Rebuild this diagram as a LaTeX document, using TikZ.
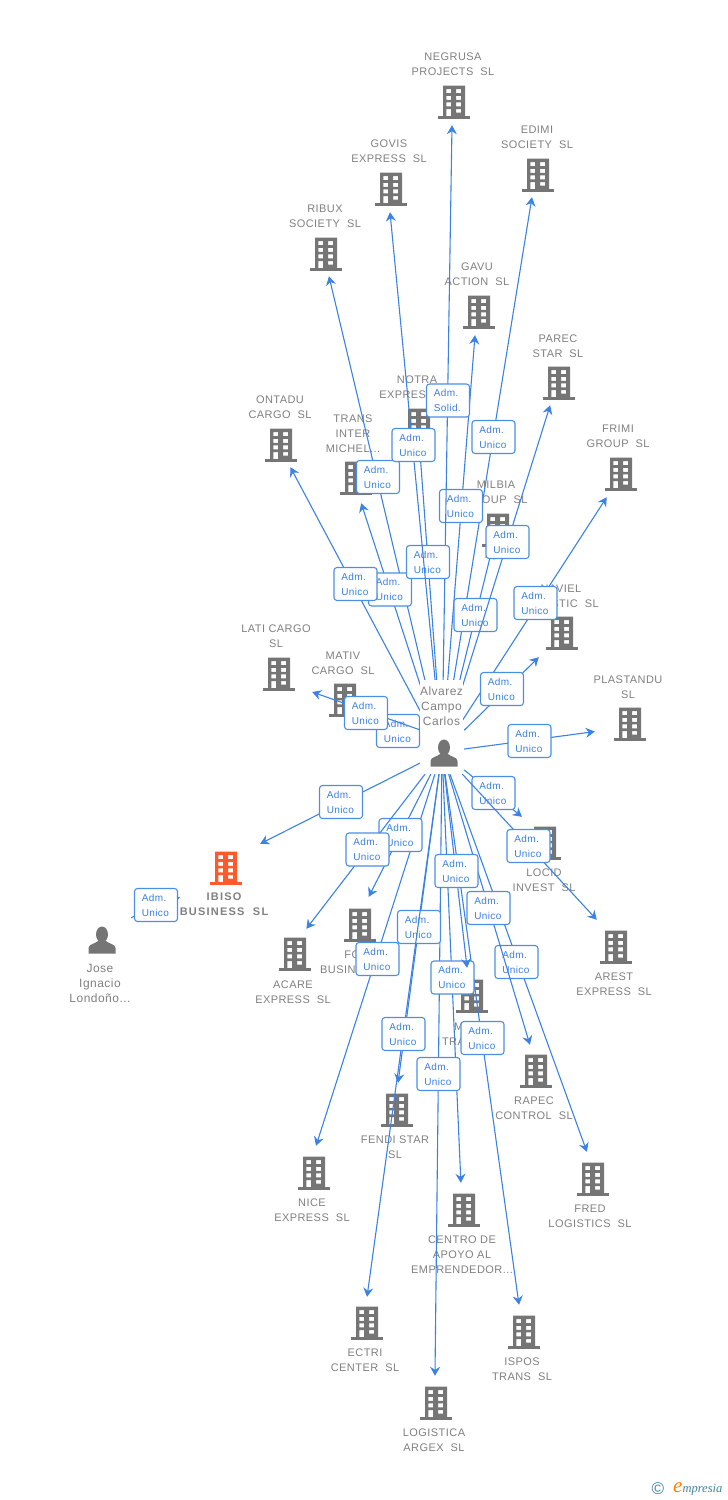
\documentclass[tikz,border=0pt]{standalone}
\usepackage{fontspec}
\usepackage{xcolor}
\setmainfont{Liberation Sans}[LetterSpace=4]
\newfontfamily\ibisofont{Liberation Sans}[LetterSpace=11]
\newfontfamily\logofont{Liberation Serif}
\usetikzlibrary{arrows.meta}
\definecolor{linkblue}{HTML}{3B82E4}
\definecolor{boxblue}{HTML}{4A8FE4}
\definecolor{admblue}{HTML}{3A80E0}
\definecolor{iconhue}{HTML}{757575}
\definecolor{txthue}{HTML}{808080}
\definecolor{ibisohue}{HTML}{FF5A2B}
\definecolor{logohue}{HTML}{3F82A3}
\tikzset{
  firm/.style={rectangle, minimum width=68pt, minimum height=50pt, inner sep=0pt},
  txt/.style={align=center, inner sep=0pt, yshift=-0.7pt, text=txthue, font=\fontsize{11}{15}\selectfont},
  persontxt/.style={txt, font=\fontsize{12}{15}\selectfont},
  link/.style={linkblue, line width=1.1pt, -{Stealth[length=9pt, width=10pt, inset=3pt]}},
  adm/.style={draw=boxblue, line width=1.1pt, fill=white, rounded corners=3pt, minimum width=43pt, minimum height=33pt,
    inner sep=0pt, text width=28.5pt, align=left, text=admblue, font=\fontsize{10}{15}\selectfont},
  building/.pic={
    \fill[even odd rule] (-11,-16.5) rectangle (11,14)
      (-7.7,-12.8) rectangle (-3,-8.8) (2,-12.8) rectangle (7,-8.8)
      (-7.7,-6.2) rectangle (-3,-2.2) (2,-6.2) rectangle (7,-2.2)
      (-7.7,0.3) rectangle (-3,4.3) (2,0.3) rectangle (7,4.3)
      (-7.7,7) rectangle (-3,14) (2,7) rectangle (7,10.6);
    \fill (-16,14) rectangle (16,16.5);
  },
  person/.pic={
    \fill (0,-5.5) ellipse (6 and 8);
    \fill (-13.5,13.5) -- (-13.5,8) .. controls (-13.5,4) and (-7,4) .. (-4,1) -- (4,1) .. controls (7,4) and (13.5,4) .. (13.5,8) -- (13.5,13.5) -- cycle;
  }
}
\begin{document}
\begin{tikzpicture}[x=1pt, y=-1pt]
  \useasboundingbox (0,0) rectangle (728,1500);
  % firms
  \node[firm] (negrusa) at (452.4,100) {};
  \node[firm] (govis) at (387.6,187) {};
  \node[firm] (edimi) at (536,172) {};
  \node[firm] (ribux) at (323,251) {};
  \node[firm] (gavu) at (477,310) {};
  \node[firm] (parec) at (558,380) {};
  \node[firm] (notra) at (418,425) {};
  \node[firm] (ontadu) at (277,442) {};
  \node[firm] (trans) at (353,478) {};
  \node[firm] (frimi) at (623,472) {};
  \node[firm] (milbia) at (498,525) {};
  \node[firm] (naviel) at (564.5,632) {};
  \node[firm] (lati) at (278,680) {};
  \node[firm] (mativ) at (345,700) {};
  \node[firm] (plastandu) at (629,727) {};
  \node[firm] (ibiso) at (226,861) {};
  \node[firm] (locid) at (553,842) {};
  \node[firm] (forbus) at (356,922) {};
  \node[firm] (acare) at (287,954) {};
  \node[firm] (arest) at (620,945) {};
  \node[firm] (mitra) at (470,993) {};
  \node[firm] (rapec) at (537.5,1070) {};
  \node[firm] (fendi) at (394.7,1108) {};
  \node[firm] (nice) at (308,1171) {};
  \node[firm] (fred) at (596,1177) {};
  \node[firm] (centro) at (462,1208) {};
  \node[firm] (ectri) at (363.6,1322) {};
  \node[firm] (ispos) at (522.5,1330) {};
  \node[firm] (logistica) at (434.7,1401) {};
  \node[rectangle, minimum size=44pt, inner sep=0pt] (alvarez) at (442,752) {};
  \node[rectangle, minimum width=58pt, minimum height=48pt, inner sep=0pt] (jose) at (102,930) {};
  \coordinate (ibisoin) at (180,897);
  % icons
  \pic[iconhue] at (454,102) {building};
  \pic[iconhue] at (391,189) {building};
  \pic[iconhue] at (538,175) {building};
  \pic[iconhue] at (326,254) {building};
  \pic[iconhue] at (479,312) {building};
  \pic[iconhue] at (559,383) {building};
  \pic[iconhue] at (419,425) {building};
  \pic[iconhue] at (281,445) {building};
  \pic[iconhue] at (356,478) {building};
  \pic[iconhue] at (621,474) {building};
  \pic[iconhue] at (498,530) {building};
  \pic[iconhue] at (562,633) {building};
  \pic[iconhue] at (279,674) {building};
  \pic[iconhue] at (345,700) {building};
  \pic[iconhue] at (630,724) {building};
  \pic[ibisohue] at (226,868) {building};
  \pic[iconhue] at (545,843) {building};
  \pic[iconhue] at (360,925) {building};
  \pic[iconhue] at (295,954) {building};
  \pic[iconhue] at (616,947) {building};
  \pic[iconhue] at (472,996) {building};
  \pic[iconhue] at (536,1071) {building};
  \pic[iconhue] at (397,1110) {building};
  \pic[iconhue] at (314,1173) {building};
  \pic[iconhue] at (593,1179) {building};
  \pic[iconhue] at (464,1210) {building};
  \pic[iconhue] at (367,1323) {building};
  \pic[iconhue] at (524,1332) {building};
  \pic[iconhue] at (436,1403) {building};
  \pic[iconhue] at (444,753) {person};
  \pic[iconhue] at (102,940) {person};
  % links under the boxes
  \draw[link] (alvarez) -- (edimi);
  \draw[link] (alvarez) -- (ribux);
  \draw[link] (alvarez) -- (gavu);
  \draw[link] (alvarez) -- (notra);
  \draw[link] (alvarez) -- (ontadu);
  \draw[link] (alvarez) -- (trans);
  \draw[link] (alvarez) -- (frimi);
  \draw[link] (alvarez) -- (milbia);
  \draw[link] (alvarez) -- (naviel);
  \draw[link] (alvarez) -- (mativ);
  \draw[link] (alvarez) -- (plastandu);
  \draw[link] (alvarez) -- (ibiso);
  \draw[link] (alvarez) -- (locid);
  \draw[link] (alvarez) -- (forbus);
  \draw[link] (alvarez) -- (fendi);
  \draw[link] (alvarez) -- (nice);
  \draw[link] (alvarez) -- (fred);
  \draw[link] (alvarez) -- (centro);
  \draw[link] (alvarez) -- (ispos);
  \draw[link] (alvarez) -- (logistica);
  \draw[link] (jose) -- (ibisoin);
  % names
  \node[txt] (negrusatxt) at (453,63.5) {NEGRUSA\\PROJECTS\ \ SL};
  \node[txt] (govistxt) at (389,150.5) {GOVIS\\EXPRESS\ \ SL};
  \node[txt] (edimitxt) at (537,136.5) {EDIMI\\SOCIETY\ \ SL};
  \node[txt] (ribuxtxt) at (325,215.5) {RIBUX\\SOCIETY\ \ SL};
  \node[txt] (gavutxt) at (477,273.5) {GAVU\\ACTION\ \ SL};
  \node[txt] (parectxt) at (558,345.5) {PAREC\\STAR\ \ SL};
  \node[txt] (notratxt) at (417,386.5) {NOTRA\\EXPRESS\ \ SL};
  \node[txt] (ontadutxt) at (280,406.5) {ONTADU\\CARGO\ \ SL};
  \node[txt] (transtxt) at (353,433) {TRANS\\INTER\\MICHEL...};
  \node[txt] (frimitxt) at (618,435.5) {FRIMI\\GROUP\ \ SL};
  \node[txt] (milbiatxt) at (496,491.5) {MILBIA\\GROUP\ \ SL};
  \node[txt] (navieltxt) at (561,595.5) {NAVIEL\\LOGISTIC\ \ SL};
  \node[txt] (latitxt) at (276,635.5) {LATI CARGO\\SL};
  \node[txt] (mativtxt) at (343,662.5) {MATIV\\CARGO\ \ SL};
  \node[txt] (plastandutxt) at (628,686.5) {PLASTANDU\\SL};
  \node[txt, font=\fontsize{11}{15}\selectfont\ibisofont\bfseries] (ibisotxt) at (224,903.5) {IBISO\\BUSINESS\ \ SL};
  \node[txt] (locidtxt) at (544,879.5) {LOCID\\INVEST\ \ SL};
  \node[txt] (forbustxt) at (360,961.5) {FORT\\BUSINESS\ \ SL};
  \node[txt] (acaretxt) at (293,991.5) {ACARE\\EXPRESS\ \ SL};
  \node[txt] (aresttxt) at (614,983.5) {AREST\\EXPRESS\ \ SL};
  \node[txt] (mitratxt) at (472,1033.5) {MITRA\\TRANS\ \ SL};
  \node[txt] (rapectxt) at (534,1107.5) {RAPEC\\CONTROL\ \ SL};
  \node[txt] (fenditxt) at (395,1146.5) {FENDI STAR\\SL};
  \node[txt] (nicetxt) at (312,1209.5) {NICE\\EXPRESS\ \ SL};
  \node[txt] (fredtxt) at (590,1215.5) {FRED\\LOGISTICS\ \ SL};
  \node[txt] (centrotxt) at (462,1254) {CENTRO DE\\APOYO AL\\EMPRENDEDOR...};
  \node[txt] (ectritxt) at (365,1359.5) {ECTRI\\CENTER\ \ SL};
  \node[txt] (ispostxt) at (522,1368.5) {ISPOS\\TRANS\ \ SL};
  \node[txt] (logisticatxt) at (434,1439.5) {LOGISTICA\\ARGEX\ \ SL};
  \node[persontxt] (josetxt) at (100,983) {Jose\\Ignacio\\Londoño...};
  % role boxes
  \node[adm] (admedimi) at (493.5,437) {Adm.\\Unico};
  \node[adm] (admribux) at (378,477) {Adm.\\Unico};
  \node[adm] (admgavu) at (461,506) {Adm.\\Unico};
  \node[adm] (admtrans) at (390,589.5) {Adm.\\Unico};
  \node[adm] (admontadu) at (355.5,584) {Adm.\\Unico};
  \node[adm] (admmilbia) at (475.5,615) {Adm.\\Unico};
  \node[adm] (admfrimi) at (535.5,603) {Adm.\\Unico};
  \node[adm] (admnaviel) at (502,689) {Adm.\\Unico};
  \node[adm] (admplastandu) at (529.5,741) {Adm.\\Unico};
  \node[adm] (admmativ) at (398,731) {Adm.\\Unico};
  \node[adm] (admibiso) at (341,802) {Adm.\\Unico};
  \node[adm] (admlocid) at (493.5,793) {Adm.\\Unico};
  \node[adm] (admforbus) at (400.5,835) {Adm.\\Unico};
  \node[adm] (admfendi) at (419,927) {Adm.\\Unico};
  \node[adm] (admnice) at (377.5,959) {Adm.\\Unico};
  \node[adm] (admfred) at (516.5,962) {Adm.\\Unico};
  \node[adm] (admcentro) at (452.5,977.5) {Adm.\\Unico};
  \node[adm] (admispos) at (482.5,1038) {Adm.\\Unico};
  \node[adm] (admlogistica) at (438.5,1074) {Adm.\\Unico};
  \node[adm] (admjose) at (156,905) {Adm.\\Unico};
  % links that run over earlier boxes
  \draw[link] (alvarez) -- (negrusa);
  \node[adm] (admnegrusa) at (448,400.5) {Adm.\\Solid.};
  \node[adm] (admnotra) at (428,562) {Adm.\\Unico};
  \draw[link] (alvarez) -- (govis);
  \node[adm] (admgovis) at (413.5,445) {Adm.\\Unico};
  \draw[link] (alvarez) -- (parec);
  \node[adm] (admparec) at (507.5,542) {Adm.\\Unico};
  \draw[link] (alvarez.north west) -- (lati);
  \node[adm] (admlati) at (366,713) {Adm.\\Unico};
  \draw[link] (alvarez) -- (arest);
  \node[adm] (admarest) at (528.5,846) {Adm.\\Unico};
  \draw[link] (alvarez) -- (acare);
  \node[adm] (admacare) at (367.5,849.5) {Adm.\\Unico};
  \draw[link] (alvarez) -- (rapec);
  \node[adm] (admrapec) at (488.5,908) {Adm.\\Unico};
  \draw[link] (alvarez) -- (mitra);
  \node[adm] (admmitra) at (456.5,871) {Adm.\\Unico};
  \draw[link] (alvarez) -- (ectri);
  \node[adm] (admectri) at (403.5,1034) {Adm.\\Unico};
  % name over the start of the links
  \node[persontxt, fill=white, minimum width=43pt, minimum height=52pt] (alvareztxt) at (441.5,705) {Alvarez\\Campo\\Carlos};
  % logo
  \node[inner sep=0pt, text=logohue, font=\fontsize{17}{17}\selectfont] (logoc) at (658,1489) {©};
  \node[inner sep=0pt, anchor=base west, font=\logofont\itshape\fontsize{12.5}{14}\selectfont, text=logohue] (logoe) at (673,1492) {\textcolor{orange}{\fontsize{21}{21}\selectfont e}mpresia};
\end{tikzpicture}
\end{document}
